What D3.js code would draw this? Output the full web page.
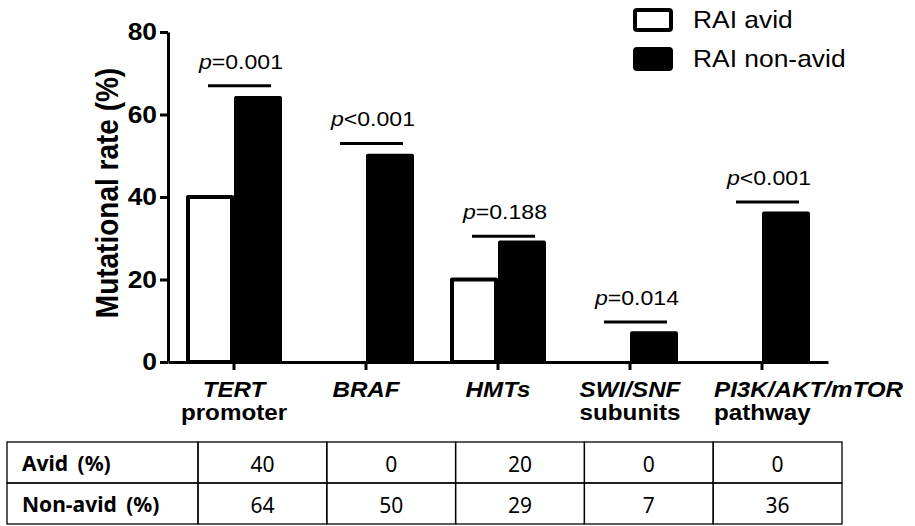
<!DOCTYPE html>
<html>
<head>
<meta charset="utf-8">
<script src="https://cdnjs.cloudflare.com/ajax/libs/d3/7.8.5/d3.min.js"></script>
<style>
  body { margin: 0; background: #fff; }
  svg { display: block; }
</style>
</head>
<body>
<script>
// chart data
var categories = ['TERT', 'BRAF', 'HMTs', 'SWI/SNF', 'PI3K/AKT/mTOR'];
var subLabels = ['promoter', '', '', 'subunits', 'pathway'];
var avid = [40, 0, 20, 0, 0];
var nonAvid = [64, 50, 29, 7, 36];
var pSigns = ['=', '<', '=', '=', '<'];
var pValues = ['0.001', '0.001', '0.188', '0.014', '0.001'];
var sigLevels = [67, 53, 30.5, 9.7, 38.8];
var yTicks = [0, 20, 40, 60, 80];
var seriesNames = ['RAI avid', 'RAI non-avid'];
var rowNames = ['Avid (%)', 'Non-avid (%)'];

// dimensions
var width = 915,
    height = 526,
    plot = {left: 168, right: 828, top: 32, bottom: 362},
    stretch = 1.1,
    font = 'Arial, "Liberation Sans", sans-serif',
    tableFont = '"Noto Sans", "Noto Sans CJK KR", sans-serif';

// scales
var x = d3.scaleBand().domain(categories).range([plot.left, plot.right]);
var x1 = d3.scaleBand().domain(['avid', 'nonavid']).range([-46, 46]).paddingInner(0.0833);
var y = d3.scaleLinear().domain([0, 80]).range([plot.bottom, plot.top]);

var svg = d3.select('body').append('svg')
    .attr('width', width)
    .attr('height', height);

// text helper, the source figure has slightly widened lettering
function label(parent, tx, ty, anchor) {
    return parent.append('g')
        .attr('transform', 'translate(' + tx + ',' + ty + ')scale(' + stretch + ',1)')
      .append('text')
        .attr('text-anchor', anchor || 'middle')
        .style('font-family', font);
}

// bars
var groups = svg.selectAll('.cat')
    .data(categories)
  .enter().append('g')
    .attr('class', 'cat')
    .attr('transform', function(d) { return 'translate(' + (x(d) + x.bandwidth() / 2) + ',0)'; });

groups.append('rect')
    .attr('x', x1('avid'))
    .attr('width', x1.bandwidth())
    .attr('y', function(d, i) { return y(avid[i]); })
    .attr('height', function(d, i) { return y(0) - y(avid[i]); })
    .attr('fill', '#fff')
    .attr('stroke', '#000')
    .attr('stroke-width', 4)
    .attr('stroke-linejoin', 'round');

groups.append('rect')
    .attr('x', x1('nonavid'))
    .attr('width', x1.bandwidth())
    .attr('y', function(d, i) { return y(nonAvid[i]); })
    .attr('height', function(d, i) { return y(0) - y(nonAvid[i]); })
    .attr('fill', '#000')
    .attr('stroke', '#000')
    .attr('stroke-width', 4)
    .attr('stroke-linejoin', 'round');

// significance bars and p values
groups.append('line')
    .attr('x1', -26)
    .attr('x2', 37)
    .attr('y1', function(d, i) { return y(sigLevels[i]); })
    .attr('y2', function(d, i) { return y(sigLevels[i]); })
    .attr('stroke', '#000')
    .attr('stroke-width', 3);

groups.each(function(d, i) {
    var t = label(d3.select(this), 7, y(sigLevels[i]) - 17)
        .style('font-size', '21px');
    t.append('tspan').style('font-style', 'italic').text('p');
    t.append('tspan').text(pSigns[i] + pValues[i]);
});

// y-axis
var yAxis = svg.append('g')
    .attr('transform', 'translate(' + plot.left + ',0)')
    .call(d3.axisLeft(y).tickValues(yTicks).tickSize(8).tickSizeOuter(0).tickPadding(2));
yAxis.select('.domain').attr('stroke-width', 3);
yAxis.selectAll('.tick line').attr('stroke-width', 3);
yAxis.selectAll('.tick text')
    .attr('transform', 'scale(' + stretch + ',1)')
    .style('font-family', font)
    .style('font-size', '24px')
    .style('font-weight', 'bold')
    .attr('fill', '#000');

// x-axis
var xAxis = svg.append('g')
    .attr('transform', 'translate(0,' + plot.bottom + ')')
    .call(d3.axisBottom(x).tickSize(8).tickSizeOuter(0).tickFormat(''));
xAxis.select('.domain').attr('stroke-width', 3);
xAxis.selectAll('.tick line').attr('stroke-width', 3);

// category labels
categories.forEach(function(c, i) {
    var cx = x(c) + x.bandwidth() / 2,
        last = i === categories.length - 1,
        lx = last ? cx - 48 : cx,
        anchor = last ? 'start' : 'middle';
    label(svg, lx, 397, anchor)
        .style('font-size', '22px')
        .style('font-weight', 'bold')
        .style('font-style', 'italic')
        .text(c);
    if (subLabels[i]) {
        label(svg, lx, 420, anchor)
            .style('font-size', '22px')
            .style('font-weight', 'bold')
            .text(subLabels[i]);
    }
});

// y-axis title
svg.append('text')
    .attr('text-anchor', 'middle')
    .attr('transform', 'translate(118,' + ((plot.top + plot.bottom) / 2 - 4) + ')rotate(-90)scale(1,' + stretch + ')')
    .style('font-family', font)
    .style('font-size', '28px')
    .style('font-weight', 'bold')
    .text('Mutational rate (%)');

// legend
var legend = svg.selectAll('.legend')
    .data(seriesNames)
  .enter().append('g')
    .attr('class', 'legend')
    .attr('transform', function(d, i) { return 'translate(635,' + (10 + i * 39) + ')'; });

legend.append('rect')
    .attr('width', 36)
    .attr('height', 20)
    .attr('rx', 2)
    .attr('fill', function(d, i) { return i ? '#000' : '#fff'; })
    .attr('stroke', '#000')
    .attr('stroke-width', 4);

legend.each(function(d) {
    label(d3.select(this), 58, 18, 'start')
        .style('font-size', '24px')
        .text(d);
});

// data table
var tx = d3.scaleBand().domain(categories).range([198, 842]),
    rowTop = 442,
    rowH = 41,
    rows = [avid, nonAvid];

var table = svg.append('g');

rows.forEach(function(vals, r) {
    var ry = rowTop + r * rowH;
    table.append('rect')
        .attr('x', 7).attr('y', ry)
        .attr('width', 191).attr('height', rowH)
        .attr('fill', 'none').attr('stroke', '#000').attr('stroke-width', 1.3);
    table.append('text')
        .attr('x', 22)
        .attr('y', ry + 29)
        .style('font-family', tableFont)
        .style('font-size', '21px')
        .style('font-weight', 'bold')
        .style('word-spacing', '4px')
        .text(rowNames[r]);
    categories.forEach(function(c, i) {
        table.append('rect')
            .attr('x', tx(c)).attr('y', ry)
            .attr('width', tx.bandwidth()).attr('height', rowH)
            .attr('fill', 'none').attr('stroke', '#000').attr('stroke-width', 1.3);
        table.append('text')
            .attr('x', tx(c) + tx.bandwidth() / 2)
            .attr('y', ry + 30)
            .attr('text-anchor', 'middle')
            .style('font-family', tableFont)
            .style('font-size', '21px')
            .text(vals[i]);
    });
});
</script>
</body>
</html>
